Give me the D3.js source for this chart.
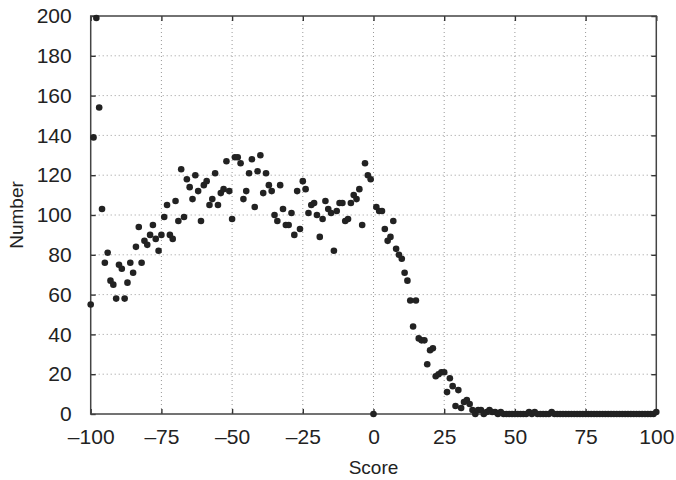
<!DOCTYPE html>
<html>
<head>
<meta charset="utf-8">
<script src="https://cdn.jsdelivr.net/npm/d3@7"></script>
<style>
  body { margin: 0; background: #fff; }
  text { font-family: "Liberation Sans", Arial, sans-serif; fill: #222; }
</style>
</head>
<body>
<svg></svg>
<script>
// ### Data ###
// scores run -100 .. 100 in steps of 1, one count per score
var scoreMin = -100;
var scoreMax = 100;
var counts = [
  55, 139, 199, 154, 103, 76, 81, 67, 65, 58,      // -100 .. -91
  75, 73, 58, 66, 76, 71, 84, 94, 76, 87,          // -90 .. -81
  85, 90, 95, 88, 82, 90, 99, 105, 90, 88,         // -80 .. -71
  107, 97, 123, 99, 118, 114, 108, 120, 112, 97,   // -70 .. -61
  115, 117, 105, 108, 121, 105, 111, 113, 127, 112,// -60 .. -51
  98, 129, 129, 126, 108, 112, 121, 128, 104, 122, // -50 .. -41
  130, 111, 121, 115, 112, 100, 97, 115, 103, 95,  // -40 .. -31
  95, 101, 90, 112, 93, 117, 113, 101, 105, 106,   // -30 .. -21
  100, 89, 98, 107, 103, 101, 82, 102, 106, 106,   // -20 .. -11
  97, 98, 106, 110, 108, 113, 95, 126, 120, 118,   // -10 .. -1
  0, 104, 102, 102, 93, 87, 89, 97, 83, 80,        // 0 .. 9
  78, 71, 67, 57, 44, 57, 38, 37, 37, 25,          // 10 .. 19
  32, 33, 19, 20, 21, 21, 11, 18, 14, 4,           // 20 .. 29
  12, 3, 6, 7, 5, 2, 0, 2, 2, 0,                   // 30 .. 39
  1, 2, 1, 1, 0, 1, 0, 0, 0, 0,                    // 40 .. 49
  0, 0, 0, 0, 0, 1, 0, 1, 0, 0,                    // 50 .. 59
  0, 0, 0, 1, 0, 0, 0, 0, 0, 0,                    // 60 .. 69
  0, 0, 0, 0, 0, 0, 0, 0, 0, 0,                    // 70 .. 79
  0, 0, 0, 0, 0, 0, 0, 0, 0, 0,                    // 80 .. 89
  0, 0, 0, 0, 0, 0, 0, 0, 0, 0,                    // 90 .. 99
  1                                                // 100
];
var xTicks = [-100, -75, -50, -25, 0, 25, 50, 75, 100];
var yTicks = [0, 20, 40, 60, 80, 100, 120, 140, 160, 180, 200];

var points = counts.map((c, i) => ({score: scoreMin + i, count: c}));

// ### Canvas ###
var W = 676, H = 480;
var plotL = 90.7, plotR = 656.3, plotT = 16, plotB = 414;

var svg = d3.select('svg')
  .attr('width', W)
  .attr('height', H);

var xScale = d3.scaleLinear().domain([scoreMin, scoreMax]).range([plotL, plotR]);
var yScale = d3.scaleLinear().domain([0, 200]).range([plotB, plotT]);

// ### Grid (dotted) ###
svg.append('g')
  .selectAll('line')
  .data(xTicks.slice(1, -1))
  .enter().append('line')
  .attr('x1', d => xScale(d)).attr('x2', d => xScale(d))
  .attr('y1', plotT).attr('y2', plotB)
  .attr('stroke', '#999').attr('stroke-width', 1)
  .attr('stroke-dasharray', '1,3');

svg.append('g')
  .selectAll('line')
  .data(yTicks.slice(1, -1))
  .enter().append('line')
  .attr('y1', d => yScale(d)).attr('y2', d => yScale(d))
  .attr('x1', plotL).attr('x2', plotR)
  .attr('stroke', '#999').attr('stroke-width', 1)
  .attr('stroke-dasharray', '1,3');

// ### Axes (ticks inward on all sides) ###
var fmt = d => d < 0 ? '\u2013' + Math.abs(d) : String(d);

var xAxis = svg.append('g')
  .attr('transform', `translate(0,${plotB})`)
  .call(d3.axisBottom(xScale).tickValues(xTicks).tickSize(-5).tickPadding(15).tickFormat(fmt));
var xTop = svg.append('g')
  .attr('transform', `translate(0,${plotT})`)
  .call(d3.axisTop(xScale).tickValues(xTicks).tickSize(-5).tickFormat(''));
var yAxis = svg.append('g')
  .attr('transform', `translate(${plotL},0)`)
  .call(d3.axisLeft(yScale).tickValues(yTicks).tickSize(-5).tickPadding(19));
var yRight = svg.append('g')
  .attr('transform', `translate(${plotR},0)`)
  .call(d3.axisRight(yScale).tickValues(yTicks).tickSize(-5).tickFormat(''));

[xAxis, xTop, yAxis, yRight].forEach(g => {
  g.select('.domain').remove();
  g.selectAll('line').attr('stroke', '#333').attr('stroke-width', 1.4);
  g.selectAll('text').attr('font-size', 21).attr('fill', '#222')
    .attr('font-family', '"Liberation Sans", Arial, sans-serif');
});

// frame
svg.append('rect')
  .attr('x', plotL).attr('y', plotT)
  .attr('width', plotR - plotL).attr('height', plotB - plotT)
  .attr('fill', 'none').attr('stroke', '#444').attr('stroke-width', 1.5);

// ### Points ###
svg.append('g')
  .selectAll('circle')
  .data(points)
  .enter().append('circle')
  .attr('cx', d => xScale(d.score))
  .attr('cy', d => yScale(d.count))
  .attr('r', 3.3)
  .attr('fill', '#222');

// ### Axis titles ###
svg.append('text')
  .attr('x', (plotL + plotR) / 2).attr('y', 474)
  .attr('text-anchor', 'middle')
  .attr('font-size', 19)
  .text('Score');

svg.append('text')
  .attr('transform', `translate(23,${(plotT + plotB) / 2}) rotate(-90)`)
  .attr('text-anchor', 'middle')
  .attr('font-size', 19)
  .text('Number');
</script>
</body>
</html>
